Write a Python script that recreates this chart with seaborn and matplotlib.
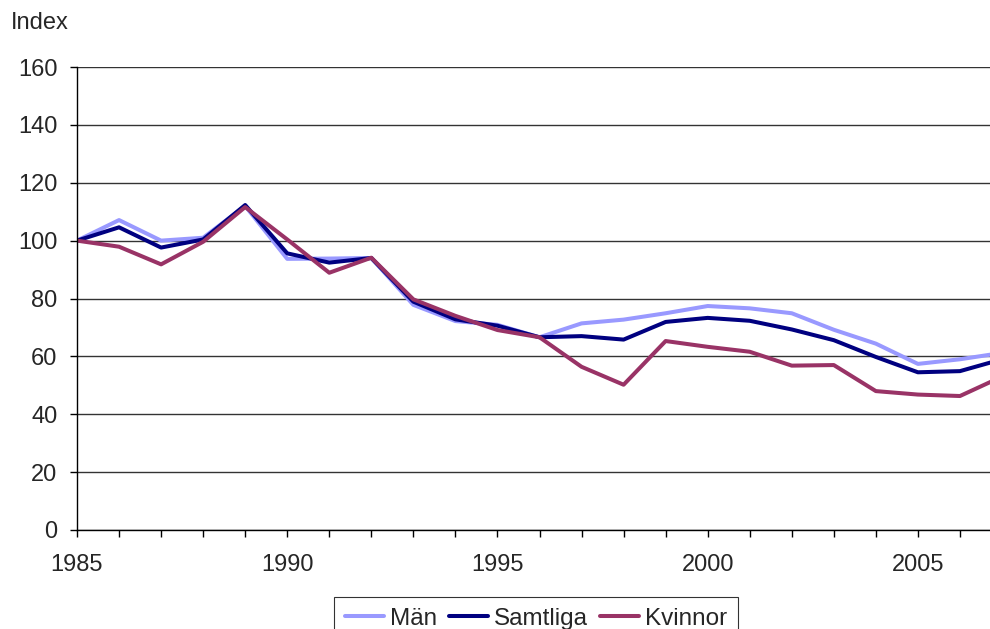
import matplotlib
matplotlib.use("Agg")
import matplotlib.pyplot as plt
from matplotlib.ticker import MultipleLocator
import pandas as pd
import seaborn as sns

# index values (1985 = 100)
years = list(range(1985, 2008))
man = [100, 107.1, 100.0, 101.0, 112.0, 93.7, 93.8, 94.0, 77.8, 72.2, 70.9, 66.6,
       71.4, 72.7, 74.9, 77.4, 76.6, 74.9, 69.2, 64.4, 57.4, 59.0, 61.2]
samtliga = [100, 104.6, 97.6, 100.4, 112.3, 95.6, 92.4, 94.0, 78.9, 72.8, 70.6, 66.6,
            67.0, 65.8, 71.9, 73.3, 72.3, 69.3, 65.6, 59.8, 54.5, 54.9, 59.0]
kvinnor = [100, 97.9, 91.8, 99.6, 111.6, 100.4, 88.9, 94.1, 79.7, 74.0, 69.1, 66.6,
           56.4, 50.2, 65.3, 63.3, 61.6, 56.8, 57.0, 48.0, 46.8, 46.3, 53.0]
series_names = ["Män", "Samtliga", "Kvinnor"]
colors = ["#9999FF", "#000080", "#993366"]

df = pd.concat([
    pd.DataFrame({"year": years, "index": vals, "serie": name})
    for name, vals in zip(series_names, [man, samtliga, kvinnor])
])

sns.set_style("white")
plt.rcParams["font.family"] = ["Liberation Sans", "DejaVu Sans"]

fig = plt.figure(figsize=(9.9, 6.29), dpi=100)
ax = fig.add_axes([77 / 990, 99 / 629, (1002 - 77) / 990, 463 / 629])

sns.lineplot(data=df, x="year", y="index", hue="serie", hue_order=series_names,
             palette=colors, linewidth=2.9, ax=ax, legend=False)

ax.set_xlim(1985, 2007)
ax.set_ylim(0, 160)
ax.xaxis.set_major_locator(MultipleLocator(5))
ax.xaxis.set_minor_locator(MultipleLocator(1))
ax.yaxis.set_major_locator(MultipleLocator(20))
ax.tick_params(axis="both", which="both", direction="out", color="black",
               labelsize=17, length=5, width=1, bottom=True, left=True)
ax.tick_params(axis="x", pad=12)
ax.tick_params(axis="y", pad=9)
ax.grid(axis="y", color="#333333", linewidth=1)
ax.set_axisbelow(True)
ax.set_xlabel("")
ax.set_ylabel("")
for s in ["top", "right"]:
    ax.spines[s].set_visible(False)
for s in ["left", "bottom"]:
    ax.spines[s].set_color("black")
    ax.spines[s].set_linewidth(1)

fig.text(11 / 990, 1 - 23 / 629, "Index", fontsize=17, va="center", ha="left")

handles = [plt.Line2D([], [], color=c, linewidth=2.9) for c in colors]
leg = fig.legend(handles, series_names, loc="upper center",
                 bbox_to_anchor=(536 / 990, 1 - 597 / 629), ncol=3, fontsize=17.5,
                 frameon=True, fancybox=False, edgecolor="black",
                 handlelength=1.6, handletextpad=0.25, columnspacing=0.5,
                 borderpad=0.45, borderaxespad=0)
leg.get_frame().set_linewidth(0.8)

fig.savefig("out.png", dpi=100)
